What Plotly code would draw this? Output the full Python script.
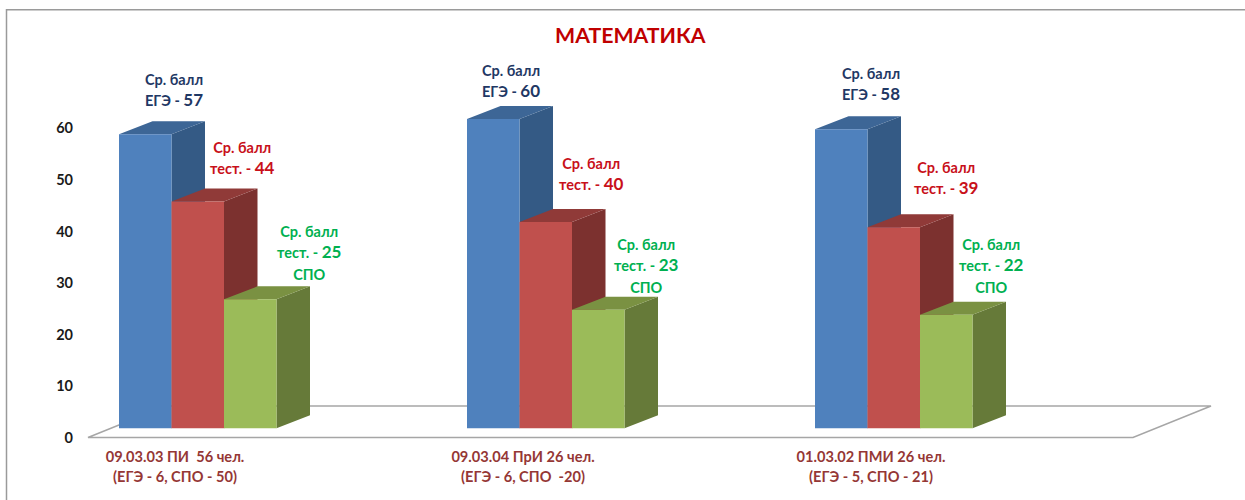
import plotly.graph_objects as go

# ---- data ----
title_text = "МАТЕМАТИКА"
groups = [0, 1, 2]
category_lines = [
    ("09.03.03 ПИ  56 чел.", "(ЕГЭ - 6, СПО - 50)"),
    ("09.03.04 ПрИ 26 чел.", "(ЕГЭ - 6, СПО  -20)"),
    ("01.03.02 ПМИ 26 чел.", "(ЕГЭ - 5, СПО - 21)"),
]
ege = [57, 60, 58]
test = [44, 40, 39]
spo = [25, 23, 22]
y_ticks = [0, 10, 20, 30, 40, 50, 60]

# ---- layout and style ----
W, H = 1245, 500
PX_PER_GROUP = 348.0
PX_PER_UNIT = 5.155
GROUP0_PX = 197.75
X_RANGE = [-GROUP0_PX / PX_PER_GROUP, (W - GROUP0_PX) / PX_PER_GROUP]
def y_range(zero_px):
    return [(zero_px - H) / PX_PER_UNIT, zero_px / PX_PER_UNIT]

BAR_W = 52.5 / PX_PER_GROUP
DX = 33.5 / PX_PER_GROUP
DY = 13.0 / PX_PER_UNIT

series = [
    dict(name="Ср. балл ЕГЭ", v=ege, front="#4F81BD", side="#345A85", top="#3D6696",
         lab="#1F3864", l1="Ср. балл", l2="ЕГЭ - ", l3=None,
         dx=[29, 18, 30], dy=[43.5, 37, 44.5]),
    dict(name="Ср. балл тест", v=test, front="#C0504D", side="#7C312F", top="#903A38",
         lab="#C8101A", l1="Ср. балл", l2="тест. - ", l3=None,
         dx=[44.5, 45.5, 52], dy=[43, 48, 48.5]),
    dict(name="Ср. балл тест СПО", v=spo, front="#9BBB59", side="#667A39", top="#7A9142",
         lab="#00B050", l1="Ср. балл", l2="тест. - ", l3="СПО",
         dx=[59, 48, 45], dy=[46.5, 44, 48.5]),
]

fig = go.Figure()

# invisible trace that makes the tick axis exist
fig.add_trace(go.Scatter(x=[groups[0]] * len(y_ticks), y=y_ticks, mode="markers",
                         marker=dict(opacity=0), hoverinfo="skip", showlegend=False))

# side and top faces, derived from the values, under the fronts
for k, s in enumerate(series):
    sx, sy, tx, ty = [], [], [], []
    for g, v in zip(groups, s["v"]):
        l = g + (k - 1.5) * BAR_W
        r = l + BAR_W
        sx += [r, r + DX, r + DX, r, r, None]
        sy += [0, DY, v + DY, v, 0, None]
        tx += [l, l + DX, r + DX, r, l, None]
        ty += [v, v + DY, v + DY, v, v, None]
    for xs, ys, c in ((sx, sy, s["side"]), (tx, ty, s["top"])):
        fig.add_trace(go.Scatter(x=xs, y=ys, mode="lines", fill="toself", fillcolor=c,
                                 line=dict(width=0, color=c), yaxis="y2",
                                 hoverinfo="skip", showlegend=False))

# front faces
for s in series:
    fig.add_trace(go.Bar(x=groups, y=s["v"], name=s["name"], marker=dict(color=s["front"], line=dict(width=0)),
                         yaxis="y3", showlegend=False))

# value labels
annotations = [dict(text=title_text, xref="paper", yref="paper", x=630 / W, y=1 - 35 / H,
                    showarrow=False, xanchor="center", yanchor="middle",
                    font=dict(family="Lato", size=21.3, color="#C00000", weight="bold"))]
for k, s in enumerate(series):
    for g, v, ddx, ddy in zip(groups, s["v"], s["dx"], s["dy"]):
        txt = (f"<span style='font-size:14.5px'>{s['l1']}</span><br>"
               f"<span style='font-size:14.5px'>{s['l2']}</span><span style='font-size:17px'>{v}</span>")
        if s["l3"]:
            txt += f"<br><span style='font-size:14.5px'>{s['l3']}</span>"
        annotations.append(dict(text=txt, x=g + (k - 1) * BAR_W, y=v, xref="x", yref="y3",
                                xshift=ddx, yshift=ddy, showarrow=False,
                                xanchor="center", yanchor="middle", align="center",
                                font=dict(family="Lato", size=16.5, color=s["lab"], weight="bold")))

def px(x): return x / W
def py(y): return 1 - y / H

shapes = [
    # chart frame: left and top edges only
    dict(type="path", xref="paper", yref="paper", layer="below",
         path=f"M {px(6.5)} {py(500)} L {px(6.5)} {py(9.7)} L {px(1245)} {py(9.7)}",
         line=dict(color="#9A9A9A", width=1.5)),
    # floor of the 3-D plot
    dict(type="path", xref="paper", yref="paper", layer="below",
         path=f"M {px(88)} {py(437.5)} L {px(1133)} {py(437.5)} L {px(1211)} {py(406)} L {px(166)} {py(406)} Z",
         fillcolor="white", line=dict(color="#A6A6A6", width=1.5)),
]

fig.update_layout(
    width=W, height=H, autosize=False, margin=dict(l=0, r=0, t=0, b=0, pad=0),
    paper_bgcolor="white", plot_bgcolor="rgba(0,0,0,0)",
    barmode="group", bargap=1 - 3 * BAR_W, bargroupgap=0,
    showlegend=False, hovermode=False,
    annotations=annotations, shapes=shapes,
    xaxis=dict(range=X_RANGE, anchor="free", position=py(437.5), showgrid=False, zeroline=False,
               showline=False, ticks="", tickmode="array",
               tickvals=[g - 22.75 / PX_PER_GROUP for g in groups],
               ticktext=[f"<span style='font-size:14.6px'>{a}</span><br><span style='font-size:14.6px'>{b}</span>"
                         for a, b in category_lines],
               ticklabelstandoff=8,
               tickfont=dict(family="Lato", size=15.5, color="#953735", weight="bold")),
    yaxis=dict(range=y_range(437.7), anchor="free", position=75 / W, side="left", showgrid=False,
               zeroline=False, showline=False, ticks="", tickmode="array", tickvals=y_ticks,
               ticklabelstandoff=2,
               tickfont=dict(family="Lato", size=14.5, color="#1A1A1A", weight="bold")),
    yaxis2=dict(range=y_range(428.2), overlaying="y", visible=False, fixedrange=True),
    yaxis3=dict(range=y_range(428.2), overlaying="y", visible=False, fixedrange=True),
)

fig.write_html("out.html", config=dict(displayModeBar=False),
               post_script="document.body.style.margin='0';document.documentElement.style.overflow='hidden';")
